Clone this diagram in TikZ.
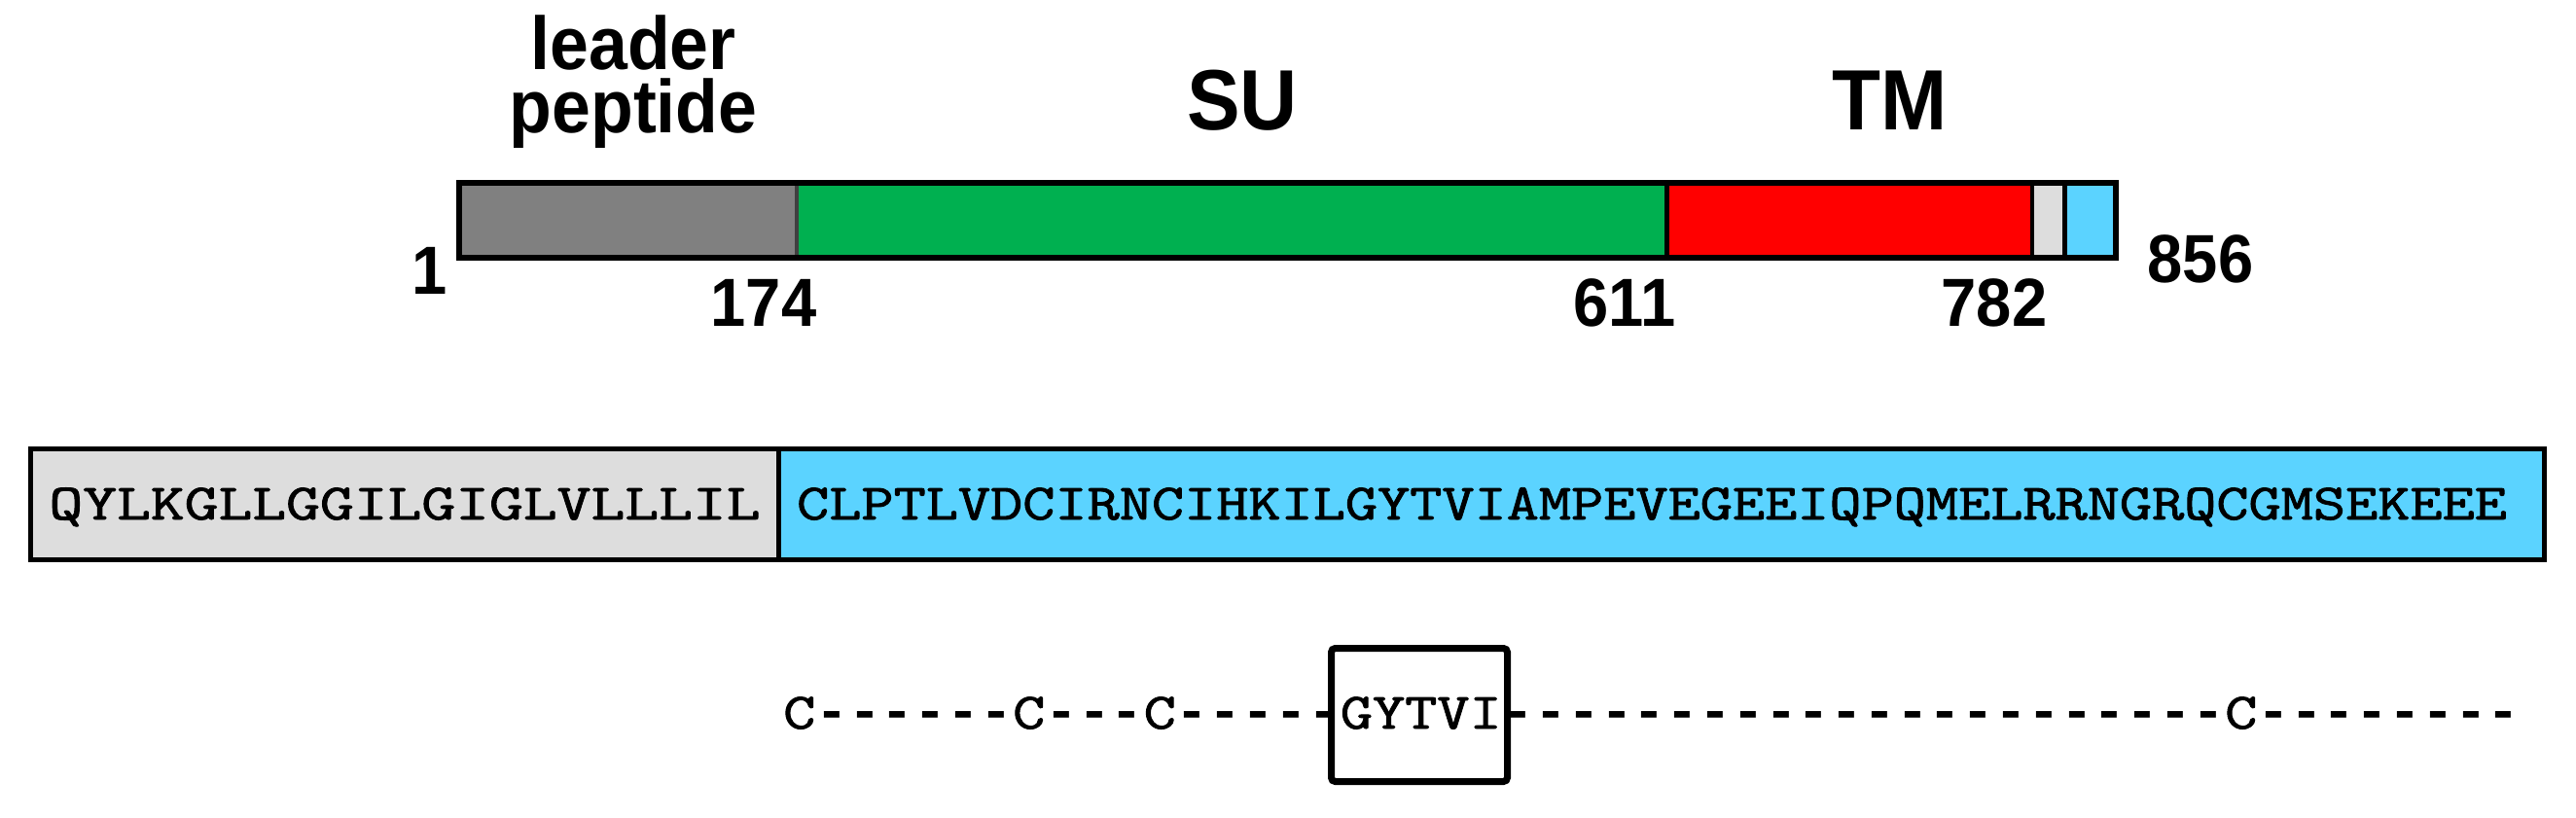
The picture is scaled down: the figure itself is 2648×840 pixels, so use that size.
\documentclass[tikz,border=0pt]{standalone}
\usepackage{graphicx}
\usepackage{fontspec}
\setmainfont{Liberation Sans}
\newfontfamily\hyfamily{Liberation Mono}
\newfontfamily\seqfamily[FakeBold=1.5]{Latin Modern Mono}
\definecolor{segGray}{HTML}{808080}
\definecolor{segGreen}{HTML}{00B050}
\definecolor{segRed}{HTML}{FF0000}
\definecolor{segLight}{HTML}{DDDDDD}
\definecolor{segBlue}{HTML}{5BD3FF}
\newcommand\hy{\hbox{\hyfamily\bfseries\fontsize{14.08}{14.08}\selectfont -}}
\newcommand\tw[1]{\scalebox{1.229}[1]{#1}}
\newcommand\cnd[1]{\scalebox{0.93}[1]{#1}}
\begin{document}
\begin{tikzpicture}[x=0.25pt,y=-0.25pt,
  bigtitle/.style={inner sep=0pt, anchor=base, font=\bfseries\fontsize{22}{22}\selectfont},
  midtitle/.style={inner sep=0pt, align=center, anchor=north, font=\bfseries\fontsize{19.25}{16.25}\selectfont},
  numlbl/.style={inner sep=0pt, anchor=base, font=\bfseries\fontsize{17.5}{17.5}\selectfont},
  seqtxt/.style={inner sep=0pt, anchor=base, font=\seqfamily\bfseries\fontsize{13.1}{13.1}\selectfont},
  barline/.style={line width=1.5pt, line join=miter},
  seqline/.style={line width=1.25pt, line join=miter},
  motifbox/.style={line width=1.75pt, rounded corners=1pt}]
\useasboundingbox (0,0) rectangle (2648,840);

% ---- top bar ----
\fill[segGray]  (472,188) rectangle (819,264.5);
\fill[segGreen] (819,188) rectangle (1713.5,264.5);
\fill[segRed]   (1713.5,188) rectangle (2089,264.5);
\fill[segLight] (2089,188) rectangle (2122.5,264.5);
\fill[segBlue]  (2122.5,188) rectangle (2175,264.5);
\draw[line width=1pt, black!75] (819,188) -- (819,264.5);
\draw[line width=1.2pt] (1713.5,188) -- (1713.5,264.5);
\draw[line width=1.1pt] (2089,188) -- (2089,264.5);
\draw[line width=1.2pt] (2122.5,188) -- (2122.5,264.5);
\draw[barline] (472,188) rectangle (2175,264.5);

% ---- titles ----
\node[midtitle] (leader) at (651,15) {\cnd{leader}\\\cnd{peptide}};
\node[bigtitle] (su) at (1277,133) {\cnd{SU}};
\node[bigtitle] (tm) at (1943,133) {\cnd{TM}};

% ---- position numbers ----
\node[numlbl] (n1) at (442,302) {\cnd{1}};
\node[numlbl] (n174) at (785,335) {\cnd{174}};
\node[numlbl] (n611) at (1670,335) {\cnd{611}};
\node[numlbl] (n782) at (2050,335) {\cnd{782}};
\node[numlbl] (n856) at (2262,290) {\cnd{856}};

% ---- sequence box ----
\fill[segLight] (31.5,461.5) rectangle (800,575.5);
\fill[segBlue] (800,461.5) rectangle (2615,575.5);
\draw[seqline] (800,461.5) -- (800,575.5);
\draw[seqline] (31.5,461.5) rectangle (2615,575.5);
\node[seqtxt] (seqA) at (416,534) {\scalebox{1.29}[1]{QYLKGLLGGILGIGLVLLLIL}};
\node[seqtxt] (seqB) at (1698,534) {\tw{CLPTLVDCIRNCIHKILGYTVIAMPEVEGEEIQPQMELRRNGRQCGMSEKEEE}};

% ---- motif line ----
\node[seqtxt] (motif) at (1698,749) {\tw{C}\hy\hy\hy\hy\hy\hy\tw{C}\hy\hy\hy\tw{C}\hy\hy\hy\hy\hy\tw{GYTVI}\hy\hy\hy\hy\hy\hy\hy\hy\hy\hy\hy\hy\hy\hy\hy\hy\hy\hy\hy\hy\hy\hy\tw{C}\hy\hy\hy\hy\hy\hy\hy\hy};
\draw[motifbox] (1368.5,666.5) rectangle (1549.5,803.5);
\end{tikzpicture}
\end{document}
